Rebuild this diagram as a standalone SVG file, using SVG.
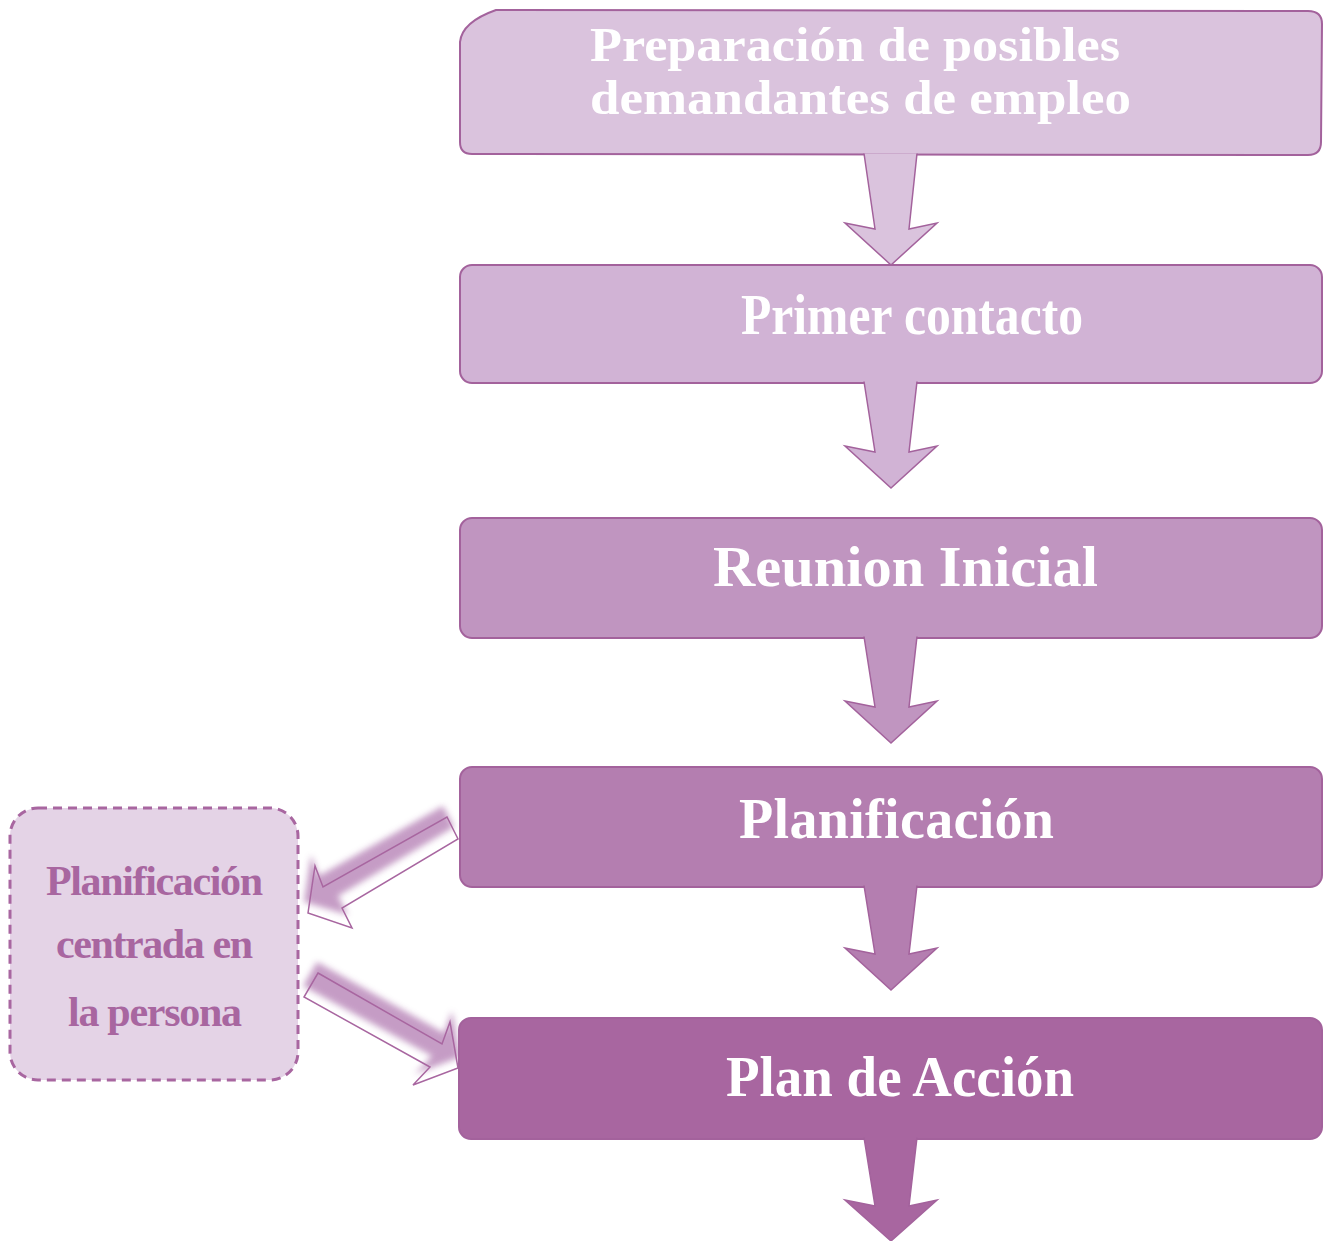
<svg xmlns="http://www.w3.org/2000/svg" width="1325" height="1241" viewBox="0 0 1325 1241">
<style>
.box{stroke:#a3629c;stroke-width:2}
.arr{stroke:#a3629c;stroke-width:1.5}
.t{font-family:"Liberation Serif","Times New Roman",serif;font-weight:bold;fill:#ffffff;text-anchor:start}
.lt{font-family:"Liberation Serif","Times New Roman",serif;font-weight:bold;fill:#a866a0}
.dg{fill:none;stroke:#a866a0;stroke-width:1.5;stroke-linejoin:miter}
.sh{fill:#b27cb2;opacity:0.75;filter:url(#blur)}
</style>
<defs>
<filter id="blur" x="-20%" y="-40%" width="140%" height="180%"><feGaussianBlur stdDeviation="3"/></filter>
</defs>
<rect width="1325" height="1241" fill="#ffffff"/>

<g id="connectors">
  <g id="diag1">
    <polygon class="sh" points="443,806 454,827 338,896 348,915 304,902 311,855 319,876"/>
    <polygon class="dg" points="447,817 458,839 342,908 352,928 308,913 315,866 323,887"/>
  </g>
  <g id="diag2">
    <polygon class="sh" points="317,962 444,1033 452,1011 460,1057 415,1074 432,1056 303,986"/>
    <polygon class="dg" points="318,973 442,1044 450,1022 458,1068 413,1085 430,1067 304,997"/>
  </g>
</g>

<g id="node-prep">
  <path class="box" fill="#dac3dd" d="M460,42 Q462,22 496,10 L1308,11 Q1322,11 1322,24 L1321,142 Q1321,155 1308,155 L472,154 Q460,154 460,142 Z"/>
  <path class="arr" fill="#dac3dd" d="M864,153.5 L875,229 L845,223 L891,265 L937,223 L909,229 L917,153.5"/>
  <text class="t" x="590" y="61" font-size="48" textLength="530" lengthAdjust="spacingAndGlyphs">Preparación de posibles</text>
  <text class="t" x="590" y="114" font-size="48" textLength="541" lengthAdjust="spacingAndGlyphs">demandantes de empleo</text>
</g>

<g id="node-contacto">
  <rect class="box" x="460" y="265" width="862" height="118" rx="12" fill="#d1b3d5"/>
  <path class="arr" fill="#d1b3d5" d="M864,381.5 L875,452 L845,446 L891,488 L937,446 L909,452 L917,381.5"/>
  <text class="t" x="741" y="334" font-size="56" textLength="342" lengthAdjust="spacingAndGlyphs">Primer contacto</text>
</g>

<g id="node-reunion">
  <rect class="box" x="460" y="518" width="862" height="120" rx="12" fill="#c095c0"/>
  <path class="arr" fill="#c095c0" d="M864,636.5 L875,707 L845,701 L891,743 L937,701 L909,707 L917,636.5"/>
  <text class="t" x="713" y="586" font-size="57" textLength="385" lengthAdjust="spacingAndGlyphs">Reunion Inicial</text>
</g>

<g id="node-planificacion">
  <rect class="box" x="460" y="767" width="862" height="120" rx="12" fill="#b47eb0"/>
  <path class="arr" fill="#b47eb0" d="M864,885.5 L875,954 L845,948 L891,990 L937,948 L909,954 L917,885.5"/>
  <text class="t" x="739" y="838" font-size="56" textLength="315">Planificación</text>
</g>

<g id="node-plan-accion">
  <rect class="box" x="459" y="1018" width="863" height="121" rx="12" fill="#a866a0"/>
  <path class="arr" fill="#a866a0" d="M864,1137.5 L875,1206 L845,1200 L891,1241 L937,1200 L909,1206 L917,1137.5"/>
  <text class="t" x="726" y="1096" font-size="57" textLength="348" lengthAdjust="spacingAndGlyphs">Plan de Acción</text>
</g>

<g id="node-pcp">
  <rect x="10" y="808" width="288" height="272" rx="28" fill="#e4d3e6" stroke="#a866a0" stroke-width="3" stroke-dasharray="9 6"/>
  <text class="lt" x="46" y="895" font-size="42" textLength="217">Planificación</text>
  <text class="lt" x="56" y="958" font-size="42" textLength="197">centrada en</text>
  <text class="lt" x="68" y="1026" font-size="42" textLength="174">la persona</text>
</g>
</svg>
